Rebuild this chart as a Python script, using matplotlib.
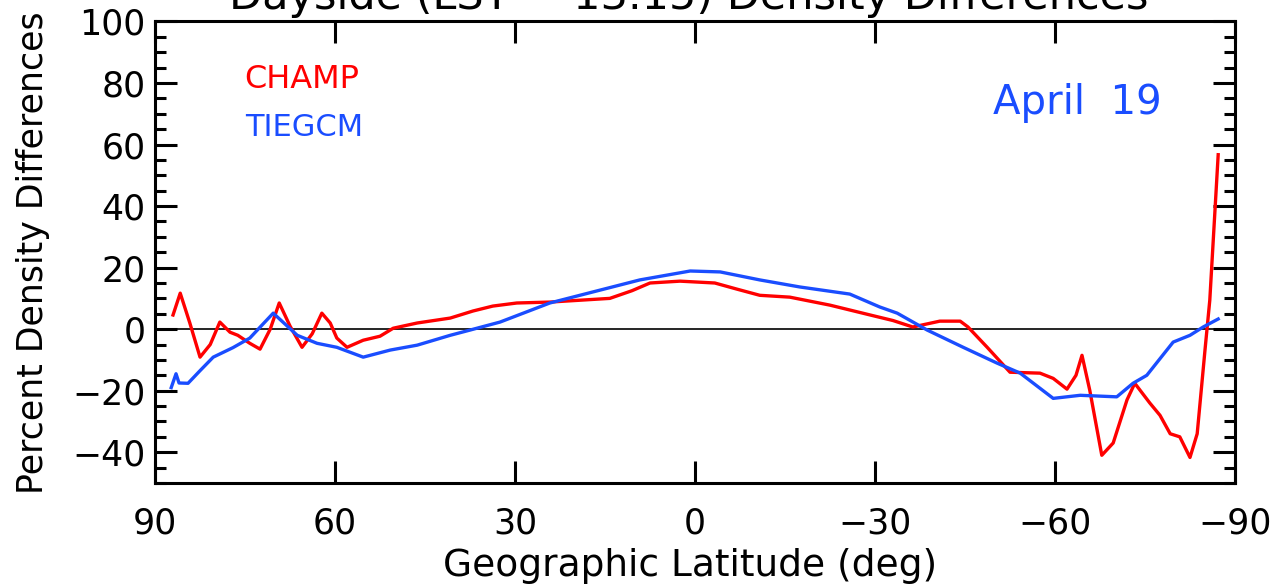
import matplotlib
matplotlib.use("Agg")
import matplotlib.pyplot as plt
from matplotlib.ticker import MultipleLocator

plt.rcParams['font.family'] = ['DejaVu Sans']

# CHAMP percent density differences
champ_lat = [87.0, 85.8, 84.2, 82.5, 80.8, 79.2, 77.5, 76.2, 74.2, 72.5, 70.8, 69.3, 67.5,
             65.5, 63.8, 62.2, 60.8, 59.7, 58.0, 55.3, 52.5, 50.3, 46.3, 40.8, 37.0, 33.7,
             29.7, 24.2, 19.2, 14.2, 10.5, 7.5, 2.5, -3.3, -7.0, -10.8, -15.8, -22.5, -29.2,
             -33.0, -36.3, -40.8, -44.2, -45.5, -48.7, -52.5, -57.5, -59.7, -62.0, -63.5,
             -64.5, -65.8, -67.8, -69.7, -72.0, -73.3, -75.8, -77.5, -79.2, -80.8, -82.5,
             -83.7, -85.0, -85.8, -87.2]
champ_val = [4.6, 11.7, 2.0, -9.1, -5.0, 2.3, -1.0, -2.0, -4.6, -6.5, 0.0, 8.5, 1.0,
             -5.9, -1.5, 5.2, 2.0, -2.9, -5.9, -3.6, -2.3, 0.3, 2.0, 3.6, 5.9, 7.5,
             8.5, 8.8, 9.4, 10.0, 12.5, 15.0, 15.6, 15.0, 13.0, 11.0, 10.4, 7.8, 4.6,
             2.8, 0.7, 2.6, 2.6, 0.7, -5.9, -14.0, -14.3, -16.0, -19.5, -15.0,
             -8.5, -19.9, -41.0, -37.0, -23.0, -17.6, -24.0, -28.0, -34.0, -35.0, -41.7,
             -34.0, -6.8, 9.4, 56.7]

# TIEGCM percent density differences
tie_lat = [87.3, 86.5, 86.0, 84.5, 82.5, 80.3, 77.0, 74.2, 70.3, 66.3, 63.0, 59.7, 55.3,
           50.8, 46.3, 40.8, 37.5, 32.5, 24.2, 15.8, 9.2, 0.8, -4.2, -10.8, -17.5, -25.8,
           -30.8, -33.7, -38.7, -44.7, -50.3, -54.2, -59.7, -64.2, -70.3, -73.0, -75.3,
           -79.7, -82.5, -84.7, -87.2]
tie_val = [-19.0, -14.5, -17.5, -17.6, -13.5, -9.1, -6.0, -2.9, 5.2, -2.0, -4.6, -5.9, -9.1,
           -6.8, -5.2, -2.0, -0.3, 2.3, 8.5, 12.7, 16.0, 18.9, 18.6, 16.0, 13.7, 11.4,
           7.2, 5.2, -0.3, -5.9, -11.0, -14.3, -22.5, -21.5, -22.0, -17.6, -15.0,
           -4.2, -2.0, 0.7, 3.3]

xticks = [90, 60, 30, 0, -30, -60, -90]
yticks = [-40, -20, 0, 20, 40, 60, 80, 100]

fig = plt.figure(figsize=(12.77, 5.87), dpi=100)
ax = fig.add_axes([0.1214, 0.1772, 0.8457, 0.7862])

ax.axhline(0, color='black', lw=1.2)
ax.plot(champ_lat, champ_val, color='#ff0000', lw=2.4)
ax.plot(tie_lat, tie_val, color='#1a4dff', lw=2.4)

ax.set_xlim(90, -90)
ax.set_ylim(-50, 100)
ax.set_xticks(xticks)
ax.set_xticklabels([str(t).replace('-', '\u2212') for t in xticks])
ax.set_yticks(yticks)
ax.yaxis.set_minor_locator(MultipleLocator(5))
ax.tick_params(which='both', direction='in', top=True, right=True, labelsize=25, width=2.2)
ax.tick_params(which='major', length=16)
ax.tick_params(which='minor', length=8)
ax.tick_params(axis='x', pad=17)
ax.tick_params(axis='y', pad=7)
for s in ax.spines.values():
    s.set_linewidth(2.2)

ax.set_xlabel('Geographic Latitude (deg)', fontsize=27)
ax.set_ylabel('Percent Density Differences', fontsize=25)
ax.xaxis.set_label_coords(0.495, -0.14)
ax.yaxis.set_label_coords(-0.097, 0.5)

ax.text(0.083, 0.875, 'CHAMP', color='#ff0000', fontsize=23, transform=ax.transAxes, va='center')
ax.text(0.083, 0.77, 'TIEGCM', color='#1a4dff', fontsize=22, transform=ax.transAxes, va='center')
ax.text(0.776, 0.824, 'April  19', color='#1a4dff', fontsize=29, transform=ax.transAxes, va='center')

fig.text(0.539, (587 - 9) / 587, 'Dayside (LST ~ 13.15) Density Differences', fontsize=31,
         ha='center', va='baseline')

fig.savefig('out.png', dpi=100)
